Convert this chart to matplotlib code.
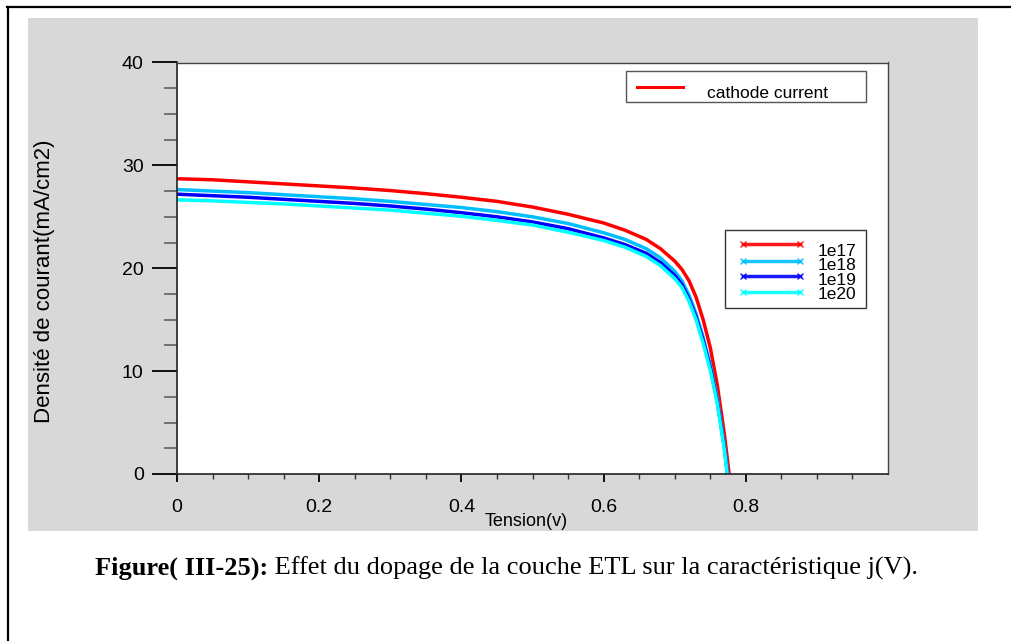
import matplotlib
matplotlib.use("Agg")
import matplotlib.pyplot as plt
from matplotlib.lines import Line2D
from matplotlib.patches import Rectangle
from matplotlib.ticker import MultipleLocator, FixedLocator

# Voltage points (V) and current density (mA/cm2) for each ETL doping level
tension = [0.00, 0.05, 0.10, 0.15, 0.20, 0.25, 0.30, 0.35, 0.40, 0.45, 0.50,
           0.55, 0.60, 0.63, 0.66, 0.68, 0.70, 0.71, 0.72, 0.73, 0.74, 0.75,
           0.76, 0.77, 0.78]
j_1e17 = [28.7, 28.6, 28.4, 28.2, 28.0, 27.8, 27.55, 27.25, 26.9, 26.5, 25.95,
          25.25, 24.4, 23.7, 22.8, 21.9, 20.7, 19.9, 18.8, 17.2, 15.0, 12.3,
          8.6, 3.8, -2.0]
j_1e18 = [27.65, 27.5, 27.35, 27.15, 26.95, 26.75, 26.5, 26.2, 25.9, 25.5, 25.0,
          24.35, 23.45, 22.8, 21.9, 21.0, 19.7, 18.8, 17.4, 15.6, 13.3, 10.6,
          7.3, 2.7, -3.2]
j_1e19 = [27.2, 27.05, 26.9, 26.7, 26.5, 26.3, 26.05, 25.75, 25.4, 25.0, 24.5,
          23.85, 22.95, 22.3, 21.45, 20.55, 19.3, 18.45, 17.05, 15.3, 13.0, 10.35,
          7.0, 2.5, -3.5]
j_1e20 = [26.65, 26.55, 26.4, 26.25, 26.05, 25.85, 25.65, 25.35, 25.05, 24.65, 24.2,
          23.5, 22.7, 22.05, 21.15, 20.25, 19.0, 18.15, 16.8, 15.0, 12.7, 10.1,
          6.8, 2.3, -3.6]

series_labels = ["1e17", "1e18", "1e19", "1e20"]
series_values = [j_1e17, j_1e18, j_1e19, j_1e20]
series_colors = ["#ff0000", "#00bfff", "#0000ff", "#00ffff"]

x_ticks = [0, 0.2, 0.4, 0.6, 0.8]
x_tick_labels = ["0", "0.2", "0.4", "0.6", "0.8"]
y_ticks = [0, 10, 20, 30, 40]
y_tick_labels = ["0", "10", "20", "30", "40"]

W, H = 1011, 641
plt.rcParams["font.family"] = ["Liberation Sans", "DejaVu Sans"]

fig = plt.figure(figsize=(W / 100, H / 100), dpi=100)
fig.patch.set_facecolor("white")


def px(x, y):
    """Pixel position (from top-left) to figure fraction."""
    return x / W, 1 - y / H


# Page frame (left and top edges)
fig.add_artist(Line2D([7.5 / W, 7.5 / W], [0, 1 - 7 / H], transform=fig.transFigure,
                      color="black", lw=1.6))
fig.add_artist(Line2D([7 / W, 1], [1 - 7 / H, 1 - 7 / H], transform=fig.transFigure,
                      color="black", lw=1.6))

# Grey plot background panel
x0, y0 = px(28, 531)
x1, y1 = px(978, 18)
fig.add_artist(Rectangle((x0, y0), x1 - x0, y1 - y0, transform=fig.transFigure,
                         facecolor="#d8d8d8", edgecolor="none", zorder=0))

# Axes
ax_l, ax_b = px(177, 474)
ax_r, ax_t = px(888, 62.5)
ax = fig.add_axes([ax_l, ax_b, ax_r - ax_l, ax_t - ax_b])
ax.set_facecolor("white")

for lab, vals, col in zip(series_labels, series_values, series_colors):
    ax.plot(tension, vals, color=col, lw=2.5, solid_joinstyle="round")

ax.set_xlim(0, 1.0)
ax.set_ylim(0, 40)

ax.xaxis.set_major_locator(FixedLocator(x_ticks))
ax.set_xticklabels(x_tick_labels)
ax.xaxis.set_minor_locator(FixedLocator([i * 0.05 for i in range(20)]))
ax.yaxis.set_major_locator(FixedLocator(y_ticks))
ax.set_yticklabels(y_tick_labels)
ax.yaxis.set_minor_locator(MultipleLocator(2.5))

ax.tick_params(axis="y", which="major", direction="out", length=18, width=1.3,
               color="black", pad=6, labelsize=14)
ax.tick_params(axis="y", which="minor", direction="out", length=9.4, width=1.1,
               color="#555555")
ax.tick_params(axis="x", which="major", direction="out", length=5.8, width=1.3,
               color="black", pad=12.5, labelsize=14)
ax.tick_params(axis="x", which="minor", direction="out", length=3.6, width=1.0,
               color="#333333")

for side in ("left", "bottom"):
    ax.spines[side].set_color("#222222")
    ax.spines[side].set_linewidth(1.2)
for side in ("top", "right"):
    ax.spines[side].set_color("#444444")
    ax.spines[side].set_linewidth(1.0)

# Axis titles
fig.text(*px(526, 522), "Tension(v)", ha="center", va="center", fontsize=13)
fig.text(*px(45, 281), "Densité de courant(mA/cm2)", ha="center", va="center",
         rotation=90, fontsize=16)

# "cathode current" key
bx0, by0 = px(626, 102)
bx1, by1 = px(866, 71)
fig.add_artist(Rectangle((bx0, by0), bx1 - bx0, by1 - by0, transform=fig.transFigure,
                         facecolor="white", edgecolor="#555555", lw=1.0, zorder=5))
lx0, ly = px(637, 87)
lx1, _ = px(683, 87)
fig.add_artist(Line2D([lx0, lx1], [ly, ly], transform=fig.transFigure,
                      color="#ff0000", lw=2.2, zorder=6))
fig.text(*px(707, 93), "cathode current", ha="left", va="center", fontsize=12.5, zorder=6)

# Doping key
bx0, by0 = px(725, 308)
bx1, by1 = px(866, 230)
fig.add_artist(Rectangle((bx0, by0), bx1 - bx0, by1 - by0, transform=fig.transFigure,
                         facecolor="white", edgecolor="#333333", lw=1.0, zorder=5))
line_ys = [244.3, 260.7, 276.0, 291.7]
text_ys = [251.3, 266.0, 280.0, 294.5]
for lab, col, ly_px, ty_px in zip(series_labels, series_colors, line_ys, text_ys):
    a, b = px(743, ly_px)
    c, _ = px(800, ly_px)
    fig.add_artist(Line2D([a, c], [b, b], transform=fig.transFigure, color=col,
                          lw=2.5, marker="x", markersize=5, markeredgewidth=1.0,
                          alpha=0.9, zorder=6))
    fig.text(*px(818, ty_px), lab, ha="left", va="center", fontsize=12.5, zorder=6)

# Caption
cap_x, cap_y = px(95, 568)
t_bold = fig.text(cap_x, cap_y, "Figure( III-25):", ha="left", va="center",
                  fontsize=19, fontweight="bold", family="Liberation Serif")
fig.canvas.draw()
bb = t_bold.get_window_extent(renderer=fig.canvas.get_renderer())
fig.text(bb.x1 / W, cap_y,
         " Effet du dopage de la couche ETL sur la caractéristique j(V).",
         ha="left", va="center", fontsize=19, family="Liberation Serif")

fig.savefig("out.png", dpi=100, facecolor="white")
